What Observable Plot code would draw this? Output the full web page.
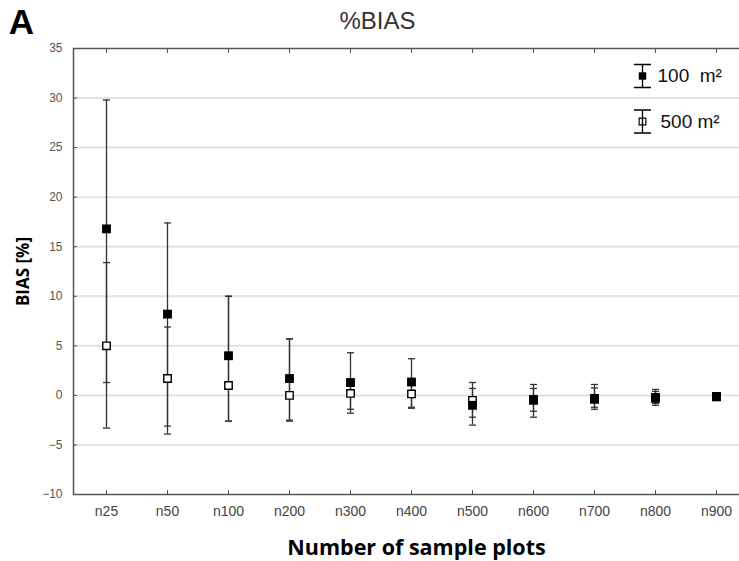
<!DOCTYPE html>
<html>
<head>
<meta charset="utf-8">
<script src="https://cdn.jsdelivr.net/npm/d3@7"></script>
<script src="https://cdn.jsdelivr.net/npm/@observablehq/plot@0.6"></script>
<style>
  html, body { margin: 0; padding: 0; background: white; overflow: hidden; }
  #chart { width: 739px; height: 561px; overflow: hidden; }
</style>
</head>
<body>
<div id="chart"></div>
<script>
const categories = ["n25","n50","n100","n200","n300","n400","n500","n600","n700","n800","n900"];
// 100 m2 plots (filled squares)
const bias100 = [16.8, 8.2, 4.0, 1.7, 1.3, 1.35, -1.0, -0.5, -0.4, -0.3, -0.15];
const lo100   = [-3.3, -3.9, -2.6, -2.6, -1.8, -1.3, -3.0, -2.2, -1.4, -1.0, -0.15];
const hi100   = [29.8, 17.4, 10.0, 5.7, 4.3, 3.7, 1.3, 1.1, 1.1, 0.6, -0.15];
// 500 m2 plots (open squares)
const bias500 = [5.0, 1.7, 1.0, 0.0, 0.2, 0.15, -0.5, -0.4, -0.3, -0.2, -0.1];
const lo500   = [1.3, -3.1, -2.6, -2.5, -1.4, -1.2, -2.2, -1.6, -1.2, -0.8, -0.1];
const hi500   = [13.4, 6.9, 10.0, 5.7, 1.5, 1.4, 0.7, 0.7, 0.75, 0.4, -0.1];
const yTicks = [-10, -5, 0, 5, 10, 15, 20, 25, 30, 35];
const gridTicks = [-5, 0, 5, 10, 15, 20, 25, 30];
const legendLabels = ["100  m²", "500 m²"];

const d100 = categories.map((c, i) => ({cat: c, v: bias100[i], lo: lo100[i], hi: hi100[i]}));
const d500 = categories.map((c, i) => ({cat: c, v: bias500[i], lo: lo500[i], hi: hi500[i]}));

const errSymbol = {
  draw(ctx) {
    const h = 11.5, w = 8.5;
    ctx.moveTo(0, -h); ctx.lineTo(0, h);
    ctx.moveTo(-w, -h); ctx.lineTo(w, -h);
    ctx.moveTo(-w, h); ctx.lineTo(w, h);
  }
};
const capSymbol = {
  draw(ctx) {
    ctx.moveTo(-3.5, 0); ctx.lineTo(3.5, 0);
  }
};

const ink = "#333";
const font = "Liberation Sans, Arial, sans-serif";

const chart = Plot.plot({
  width: 739,
  height: 561,
  marginLeft: 73,
  marginRight: -3,
  marginTop: 48,
  marginBottom: 67,
  style: {fontFamily: font, fontSize: "12px", color: "#444", background: "white"},
  x: {type: "point", domain: categories, range: [102, 719], padding: 0, label: null},
  y: {domain: [-10, 35], label: null},
  marks: [
    Plot.gridY(gridTicks, {stroke: "#e2e2e2", strokeOpacity: 1, strokeWidth: 2}),
    Plot.frame({stroke: "#555", strokeWidth: 1.5}),
    Plot.axisY(yTicks, {tickSize: 0, tickPadding: 11, fill: "#555", fontSize: 12, label: null}),
    Plot.axisY(yTicks, {tickSize: -4, tickFormat: () => "", stroke: "#555", label: null}),
    Plot.axisX({anchor: "bottom", tickSize: 0, tickPadding: 12, fill: "#444", fontSize: 14, label: null,
      fontFamily: "Liberation Sans Narrow, Arial Narrow, Liberation Sans, sans-serif"}),
    Plot.axisX({anchor: "bottom", tickSize: -4, tickFormat: () => "", stroke: "#555", label: null}),
    Plot.axisX({anchor: "top", tickSize: -4, tickFormat: () => "", stroke: "#555", label: null}),
    // error bars, 100 m2
    Plot.ruleX(d100, {x: "cat", y1: "lo", y2: "hi", stroke: ink, strokeWidth: 1.3}),
    Plot.dot(d100, {x: "cat", y: "lo", symbol: capSymbol, r: 3, fill: "none", stroke: ink, strokeWidth: 1.3}),
    Plot.dot(d100, {x: "cat", y: "hi", symbol: capSymbol, r: 3, fill: "none", stroke: ink, strokeWidth: 1.3}),
    // error bars, 500 m2
    Plot.ruleX(d500, {x: "cat", y1: "lo", y2: "hi", stroke: ink, strokeWidth: 1.3}),
    Plot.dot(d500, {x: "cat", y: "lo", symbol: capSymbol, r: 3, fill: "none", stroke: ink, strokeWidth: 1.3}),
    Plot.dot(d500, {x: "cat", y: "hi", symbol: capSymbol, r: 3, fill: "none", stroke: ink, strokeWidth: 1.3}),
    // points
    Plot.dot(d500, {x: "cat", y: "v", symbol: "square", r: 4.2, fill: "white", stroke: "black", strokeWidth: 1.4}),
    Plot.dot(d100, {x: "cat", y: "v", symbol: "square", r: 5, fill: "black"}),
    // legend
    Plot.dot([0], {x: null, y: null, frameAnchor: "top-left", dx: 569, dy: 27.5, symbol: errSymbol, r: 5, fill: "none", stroke: "black", strokeWidth: 1.3}),
    Plot.dot([0], {x: null, y: null, frameAnchor: "top-left", dx: 569, dy: 27.5, symbol: "square", r: 4.2, fill: "black"}),
    Plot.dot([0], {x: null, y: null, frameAnchor: "top-left", dx: 569, dy: 73, symbol: errSymbol, r: 5, fill: "none", stroke: "black", strokeWidth: 1.3}),
    Plot.dot([0], {x: null, y: null, frameAnchor: "top-left", dx: 569, dy: 73, symbol: "square", r: 3.8, fill: "none", stroke: "black", strokeWidth: 1.2}),
    Plot.text([legendLabels[0]], {frameAnchor: "top-left", dx: 584, dy: 27.5, textAnchor: "start", lineAnchor: "middle", fontSize: 19, fill: "#111"}),
    Plot.text([legendLabels[1]], {frameAnchor: "top-left", dx: 587, dy: 73, textAnchor: "start", lineAnchor: "middle", fontSize: 19, fill: "#111"}),
    // titles
    Plot.text(["A"], {frameAnchor: "top-left", dx: -52, dy: -26, textAnchor: "middle", lineAnchor: "middle", fontSize: 35, fontWeight: "bold", fill: "black"}),
    Plot.text(["%BIAS"], {frameAnchor: "top-left", dx: 304, dy: -27, textAnchor: "middle", lineAnchor: "middle", fontSize: 24, fill: "#333"}),
    Plot.text(["BIAS [%]"], {frameAnchor: "left", dx: -50, rotate: -90, textAnchor: "middle", lineAnchor: "middle", fontSize: 17, fontWeight: "bold", fill: "black", fontFamily: "Open Sans, sans-serif"}),
    Plot.text(["Number of sample plots"], {frameAnchor: "bottom-left", dx: 343, dy: 54, textAnchor: "middle", lineAnchor: "middle", fontSize: 21.5, fontWeight: "bold", fill: "black", fontFamily: "Open Sans, sans-serif"})
  ]
});
document.getElementById("chart").appendChild(chart);
</script>
</body>
</html>
